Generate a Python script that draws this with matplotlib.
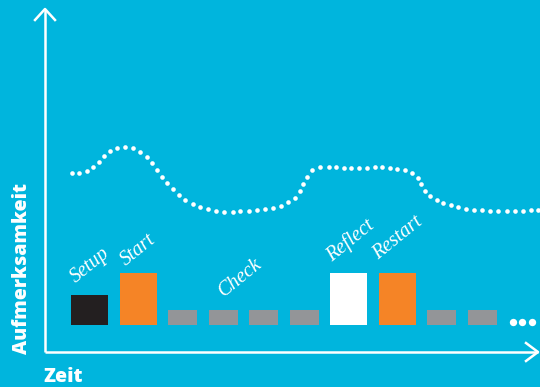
import matplotlib
matplotlib.use("Agg")
import matplotlib.pyplot as plt

# Phasen (Balken) von links nach rechts
phasen = ["Setup", "Start", "", "", "", "", "Reflect", "Restart", "", ""]
hoehen = [30, 52, 15, 15, 15, 15, 52, 52, 15, 15]
farben = ["#231F20", "#F58426", "#939598", "#939598", "#939598", "#939598",
          "#FFFFFF", "#F58426", "#939598", "#939598"]

# Aufmerksamkeitskurve (gepunktet)
zeit = [27, 34, 42, 48, 54, 59, 65, 72, 80, 88, 95, 102, 107, 112, 117, 122,
        128, 134, 140, 148, 155, 163, 171, 179, 188, 195, 204, 212, 220, 228,
        236, 243, 250, 255, 258, 262, 267, 275, 284, 291, 299, 306, 314, 322,
        330, 337, 345, 352, 360, 367, 373, 376, 380, 385, 392, 398, 406, 413,
        421, 429, 437, 445, 453, 462, 470, 478, 486, 493]
aufmerksamkeit = [179, 179, 181, 185, 190, 196, 201, 204, 205, 204, 200, 195,
                  189, 182, 175, 169, 163, 157, 152, 148, 145, 143, 141, 140,
                  140, 141, 141, 142, 143, 144, 146, 150, 154, 161, 168, 175,
                  182, 185, 185, 185, 184, 184, 184, 184, 185, 185, 184, 183,
                  182, 179, 174, 168, 161, 156, 152, 149, 147, 145, 143, 142,
                  142, 141, 141, 141, 141, 141, 142, 142]

# "..." am Ende
weiter_x = [468, 477, 487]
weiter_y = [30, 30, 30]

BG = "#00B5DD"
fig = plt.figure(figsize=(5.4, 3.87), dpi=100, facecolor=BG)
ax = fig.add_axes([0, 0, 1, 1])
ax.set_facecolor(BG)
ax.set_xlim(-45, 495)
ax.set_ylim(-35, 352)
ax.axis("off")

# Balken
basis = 27
breit, schmal, luecke = 37, 29, 11.5
x = 26
for name, h, c in zip(phasen, hoehen, farben):
    w = breit if c != "#939598" else schmal
    ax.bar(x, h, width=w, bottom=basis, align="edge", color=c, linewidth=0)
    x += w + luecke

# Beschriftungen
labels = {"Setup": (45, 87), "Start": (93, 102), "Check": (196, 74),
          "Reflect": (306, 111), "Restart": (353, 114)}
for t, (lx, ly) in labels.items():
    ax.text(lx, ly, t, rotation=39, ha="center", va="center", color="white",
            family="Liberation Serif", style="italic", fontsize=14.5)

ax.scatter(zeit, aufmerksamkeit, s=11, color="white", linewidths=0)
ax.scatter(weiter_x, weiter_y, s=28, color="white", linewidths=0)

# Achsenpfeile
lw = 1.8
ax.plot([0, 0], [0, 343], color="white", lw=lw, solid_capstyle="butt")
ax.plot([-10, 0, 10], [332, 343, 332], color="white", lw=lw)
ax.plot([0, 493], [0, 0], color="white", lw=lw, solid_capstyle="butt")
ax.plot([481, 493, 481], [9, 0, -9], color="white", lw=lw)

ax.text(-23, 83, "Aufmerksamkeit", rotation=90, ha="center", va="center",
        color="white", family="Open Sans", weight="heavy", fontsize=14)
ax.text(18, -25, "Zeit", ha="center", va="center", color="white",
        family="Open Sans", weight="heavy", fontsize=14)

fig.savefig("out.png", dpi=100, facecolor=BG)
